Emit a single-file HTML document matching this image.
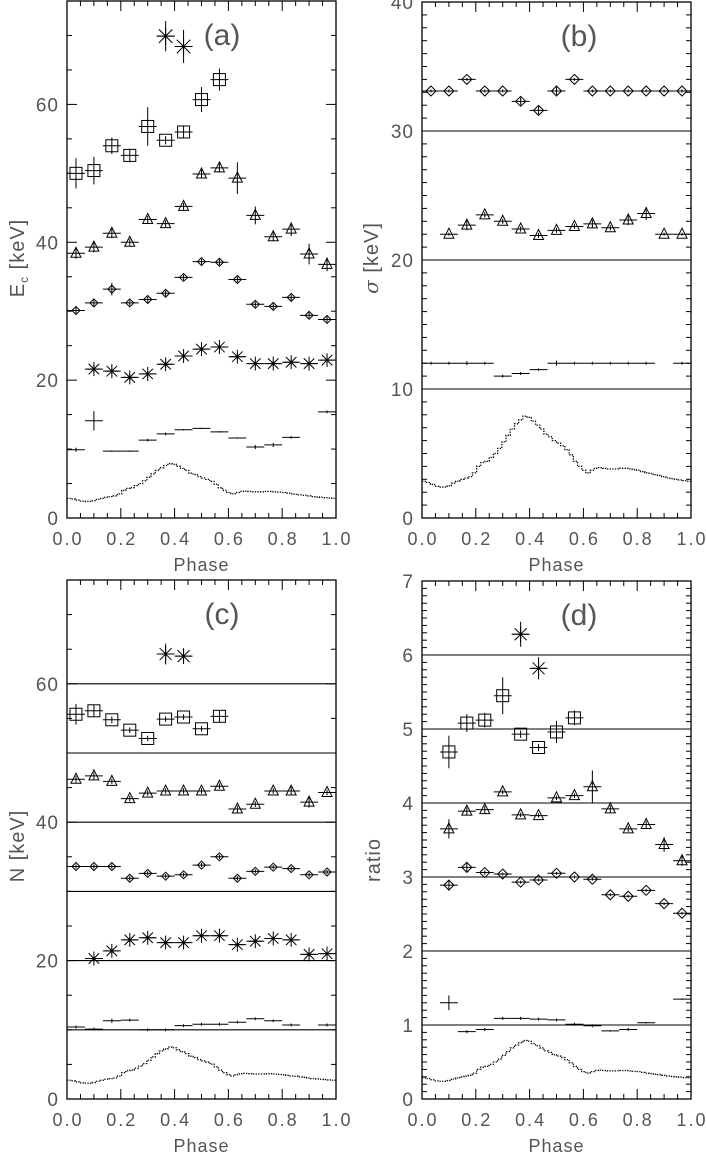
<!DOCTYPE html>
<html><head><meta charset="utf-8">
<style>
html,body{margin:0;padding:0;background:#fff;}
svg{display:block;}
text{font-family:"Liberation Sans",sans-serif;fill:#555;}
</style></head>
<body>
<svg id="fig" width="706" height="1155" viewBox="0 0 706 1155" xmlns="http://www.w3.org/2000/svg"></svg>
<script>
// ---- data (15 phase bins, centers (i+0.5)/15; null = missing) ----
const nBins = 15;
const lightCurve = [2.85,2.75,2.6,2.45,2.4,2.4,2.5,2.7,2.85,3.0,3.1,3.2,3.5,4.0,4.3,4.4,4.7,5.0,5.4,5.9,6.4,6.9,7.3,7.6,7.9,7.8,7.5,7.2,6.9,6.5,6.3,6.0,5.8,5.6,5.3,4.9,4.4,4.0,3.7,3.5,3.7,3.85,3.9,3.85,3.8,3.8,3.8,3.85,3.85,3.8,3.75,3.7,3.6,3.5,3.45,3.35,3.3,3.2,3.1,3.05,3.0,2.95,2.9,2.85];

// panel (a) Ec
const aStar = [null,null,null,null,null,69.9,68.4,null,null,null,null,null,null,null,null];
const aStarErr = [0,0,0,0,0,2.2,2.4,0,0,0,0,0,0,0,0];
const aSquare = [50.0,50.4,54.0,52.6,56.8,54.8,56.0,60.7,63.6,null,null,null,null,null,null];
const aSquareErr = [2.2,2.0,1.2,1.0,2.8,0.6,0.8,1.8,1.6,0,0,0,0,0,0];
const aTri = [38.4,39.3,41.3,40.0,43.3,42.7,45.2,49.9,50.8,49.3,43.9,40.8,41.9,38.3,36.8];
const aTriErr = [0.8,0.8,0.7,0.5,0.5,0.5,0.5,0.6,0.7,2.3,1.3,0.6,1.0,1.5,1.0];
const aDia = [30.1,31.2,33.2,31.2,31.7,32.6,34.9,37.2,37.1,34.6,31.0,30.7,32.0,29.4,28.8];
const aDiaErr = [0.4,0.5,0.9,0.4,0.4,0.4,0.4,0.4,0.4,0.4,0.4,0.4,0.4,0.4,0.4];
const aAst = [null,21.6,21.3,20.4,20.9,22.3,23.5,24.5,24.8,23.4,22.4,22.4,22.6,22.4,22.9];
const aAstErr = [0,0.6,0.5,0.5,0.5,0.5,0.5,0.5,0.5,0.5,0.4,0.4,0.4,0.4,0.6];
const aSmall = [9.9,14.1,9.7,9.7,11.3,12.2,12.8,13.0,12.5,11.6,10.3,10.6,11.7,null,15.4];
const aSmallErr = [0.3,1.4,0.1,0.1,0.2,0.2,0.1,0.1,0.1,0.1,0.3,0.3,0.2,0,0.2];

// panel (b) sigma
const bDia = [33.1,33.1,34.0,33.1,33.1,32.3,31.6,33.1,34.0,33.1,33.1,33.1,33.1,33.1,33.1];
const bDiaErr = [0,0,0,0,0,0.3,0.3,0.3,0,0,0,0,0,0,0];
const bTri = [null,22.0,22.7,23.5,23.0,22.4,21.9,22.3,22.6,22.8,22.5,23.1,23.6,22.0,22.0];
const bTriErr = [0,0,0.4,0.2,0.2,0.2,0.2,0.2,0.2,0.3,0.2,0.4,0.5,0,0];
const bSmall = [12.0,12.0,12.0,12.0,11.0,11.2,11.5,12.0,12.0,12.0,12.0,12.0,12.0,null,12.0];
const bSmallErr = [0,0,0.15,0,0,0,0.1,0.2,0,0,0,0,0,0,0];

// panel (c) N
const cStar = [null,null,null,null,null,64.3,64.0,null,null,null,null,null,null,null,null];
const cStarErr = [0,0,0,0,0,1.5,1.0,0,0,0,0,0,0,0,0];
const cSquare = [55.6,56.1,54.8,53.3,52.1,54.9,55.2,53.5,55.3,null,null,null,null,null,null];
const cSquareErr = [1.5,0.8,0.5,0.4,0.4,0.4,0.4,0.4,0.8,0,0,0,0,0,0];
const cTri = [46.2,46.7,45.9,43.4,44.2,44.5,44.5,44.5,45.2,41.9,42.6,44.5,44.5,42.9,44.3];
const cTriErr = [0.5,0.5,0.4,0.4,0.4,0.4,0.4,0.4,0.4,0.5,0.4,0.4,0.6,0.8,0.4];
const cDia = [33.6,33.6,33.6,31.9,32.6,32.2,32.4,33.8,35.0,31.9,32.9,33.5,33.3,32.4,32.8];
const cDiaErr = [0.3,0.3,0.3,0.3,0.3,0.3,0.3,0.3,0.3,0.3,0.3,0.3,0.3,0.3,0.3];
const cAst = [null,20.3,21.4,23.0,23.3,22.6,22.6,23.6,23.6,22.3,22.8,23.2,23.0,20.9,21.0];
const cAstErr = [0,0.3,0.4,0.3,0.3,0.3,0.3,0.3,0.3,0.3,0.3,0.3,0.3,0.3,0.3];
const cSmall = [10.4,10.1,11.3,11.4,10.0,10.0,10.6,10.8,10.8,11.1,11.6,11.3,10.7,null,10.7];
const cSmallErr = [0,0,0.3,0,0,0,0,0,0,0,0.2,0.2,0,0,0];

// panel (d) ratio
const dStar = [null,null,null,null,null,6.28,5.82,null,null,null,null,null,null,null,null];
const dStarErr = [0,0,0,0,0,0.17,0.15,0,0,0,0,0,0,0,0];
const dSquare = [null,4.69,5.08,5.12,5.45,4.93,4.75,4.96,5.15,null,null,null,null,null,null];
const dSquareErr = [0,0.22,0.12,0.1,0.25,0.05,0.05,0.15,0.1,0,0,0,0,0,0];
const dTri = [null,3.65,3.89,3.91,4.15,3.84,3.83,4.07,4.10,4.22,3.92,3.65,3.71,3.44,3.22];
const dTriErr = [0,0.13,0.05,0.05,0.03,0.03,0.03,0.03,0.03,0.22,0.05,0.04,0.05,0.1,0.07];
const dDia = [null,2.89,3.13,3.06,3.04,2.93,2.96,3.05,3.00,2.97,2.76,2.74,2.82,2.64,2.51];
const dDiaErr = [0,0.07,0.06,0.03,0.02,0.02,0.02,0.02,0.02,0.02,0.02,0.02,0.02,0.02,0.02];
const dSmall = [null,1.30,0.91,0.94,1.09,1.09,1.08,1.07,1.01,0.99,0.92,0.94,1.03,null,1.35];
const dSmallErr = [0,0.1,0,0,0,0,0,0,0,0,0.01,0.02,0.01,0,0.01];

const xTickLabels = ["0.0","0.2","0.4","0.6","0.8","1.0"];
const aYTicks = [0,20,40,60];
const bYTicks = [0,10,20,30,40];
const cYTicks = [0,20,40,60];
const dYTicks = [0,1,2,3,4,5,6,7];
const bHLines = [10,20,30];
const cHLines = [10,20,30,40,50,60];
const dHLines = [1,2,3,4,5,6];

const svg = document.getElementById('fig');
const NS = 'http://www.w3.org/2000/svg';
function mk(tag, attrs, parent){
  const e = document.createElementNS(NS, tag);
  for (const k in attrs) e.setAttribute(k, attrs[k]);
  (parent||svg).appendChild(e);
  return e;
}
function line(g,x1,y1,x2,y2,w){ return mk('line',{x1:x1,y1:y1,x2:x2,y2:y2,stroke:'#000','stroke-width':w||1},g); }

function panel(cfg){
  const g = mk('g',{});
  
  
  const X = p => cfg.x0 + p*(cfg.x1-cfg.x0);
  const Y = v => cfg.yb - v/cfg.ymax*(cfg.yb-cfg.yt);
  const fr = mk('rect',{x:cfg.x0,y:cfg.yt,width:cfg.x1-cfg.x0,height:cfg.yb-cfg.yt,fill:'none',stroke:'#000','stroke-width':1.3},g);
  
  
  for (let i=0;i<=20;i++){
    const p=i/20, x=X(p), L=(i%4===0)?10:5;
    line(g,x,cfg.yb,x,cfg.yb-L,1);
    line(g,x,cfg.yt,x,cfg.yt+L,1);
  }
  xTickLabels.forEach((s,i)=>{
    const t = mk('text',{x:X(i*0.2)+1,y:cfg.yb+27,'text-anchor':'middle','font-size':18,'letter-spacing':'2'},g);
    t.textContent = s;
    
    
  });
  const xt = mk('text',{x:(cfg.x0+cfg.x1)/2,y:cfg.yb+53,'text-anchor':'middle','font-size':18,'letter-spacing':'1'},g);
  xt.textContent='Phase';
  
  
  const nMin = Math.round(cfg.ymax/cfg.minor);
  for (let i=0;i<=nMin;i++){
    const v=i*cfg.minor, y=Y(v);
    const isMaj = Math.abs(v/cfg.major - Math.round(v/cfg.major))<1e-6;
    const L = isMaj?10:5;
    line(g,cfg.x0,y,cfg.x0+L,y,1);
    line(g,cfg.x1,y,cfg.x1-L,y,1);
  }
  cfg.yticks.forEach(v=>{
    const t = mk('text',{x:cfg.x0-8,y:Y(v)+7,'text-anchor':'end','font-size':19,'letter-spacing':'1'},g);
    t.textContent=String(v);
    
    
  });
  (cfg.hlines||[]).forEach(v=>{
    const l=line(g,cfg.x0,Y(v),cfg.x1,Y(v),1.1);
    
    
  });
  let pts=[];
  lightCurve.forEach((v,i)=>{
    const xa=X(i/lightCurve.length), xb=X((i+1)/lightCurve.length), y=Y(v*cfg.lcScale);
    pts.push(xa+','+y, xb+','+y);
  });
  const lc = mk('polyline',{points:pts.join(' '),fill:'none',stroke:'#000','stroke-width':1.3,'stroke-dasharray':'1.3,1.3'},g);
  
  
  cfg.series.forEach(s=>{
    const sg = mk('g',{},g);
    
    
    s.vals.forEach((v,i)=>{
      if (v===null) return;
      const cx = X((i+0.5)/nBins), cy = Y(v);
      const hw = (cfg.x1-cfg.x0)/nBins/2;
      line(sg,cx-hw,cy,cx+hw,cy,1);
      const e = s.errs[i]||0;
      if (e>0) line(sg,cx,Y(v+e),cx,Y(v-e),1);
      else line(sg,cx,cy-1.5,cx,cy+1.5,1);
      const r=s.r||5;
      if (s.sym==='square') mk('rect',{x:cx-r,y:cy-r,width:2*r,height:2*r,fill:'none',stroke:'#000','stroke-width':1},sg);
      else if (s.sym==='tri') mk('polygon',{points:`${cx},${cy-r-1} ${cx-r},${cy+r-1} ${cx+r},${cy+r-1}`,fill:'none',stroke:'#000','stroke-width':1},sg);
      else if (s.sym==='dia') mk('polygon',{points:`${cx},${cy-r} ${cx+r},${cy} ${cx},${cy+r} ${cx-r},${cy}`,fill:'none',stroke:'#000','stroke-width':1},sg);
      else if (s.sym==='ast'){
        line(sg,cx-r,cy,cx+r,cy,1); line(sg,cx,cy-r,cx,cy+r,1);
        const d=r*0.75; line(sg,cx-d,cy-d,cx+d,cy+d,1); line(sg,cx-d,cy+d,cx+d,cy-d,1);
      }
    });
  });
  const lab = mk('text',{x:cfg.labX,y:cfg.yt+44,'text-anchor':'middle','font-size':30},g);
  lab.textContent = cfg.letter;
  
  
  return {g,X,Y};
}

function S(name,sym,vals,errs,r){ return {name,sym,vals,errs,r}; }

panel({name:'panel-a',x0:67,x1:336,yt:1,yb:518,ymax:75,major:20,minor:5,yticks:aYTicks,hlines:[],lcScale:1.0,letter:'(a)',labX:222,
  series:[S('series-star','ast',aStar,aStarErr,9),S('series-square','square',aSquare,aSquareErr,6),S('series-triangle','tri',aTri,aTriErr,5),
  S('series-diamond','dia',aDia,aDiaErr,4),S('series-asterisk','ast',aAst,aAstErr,7),S('series-base','none',aSmall,aSmallErr,0)]});
panel({name:'panel-b',x0:422,x1:691,yt:2,yb:518,ymax:40,major:10,minor:1,yticks:bYTicks,hlines:bHLines,lcScale:1.0,letter:'(b)',labX:579,
  series:[S('series-diamond','dia',bDia,bDiaErr,5),S('series-triangle','tri',bTri,bTriErr,5),S('series-base','none',bSmall,bSmallErr,0)]});
panel({name:'panel-c',x0:67,x1:336,yt:580,yb:1099,ymax:75,major:20,minor:5,yticks:cYTicks,hlines:cHLines,lcScale:0.95,letter:'(c)',labX:222,
  series:[S('series-star','ast',cStar,cStarErr,8),S('series-square','square',cSquare,cSquareErr,6),S('series-triangle','tri',cTri,cTriErr,5),
  S('series-diamond','dia',cDia,cDiaErr,4),S('series-asterisk','ast',cAst,cAstErr,7),S('series-base','none',cSmall,cSmallErr,0)]});
panel({name:'panel-d',x0:422,x1:691,yt:581,yb:1099,ymax:7,major:1,minor:0.1,yticks:dYTicks,hlines:dHLines,lcScale:0.1,letter:'(d)',labX:579,
  series:[S('series-star','ast',dStar,dStarErr,8),S('series-square','square',dSquare,dSquareErr,6),S('series-triangle','tri',dTri,dTriErr,5),
  S('series-diamond','dia',dDia,dDiaErr,5),S('series-base','none',dSmall,dSmallErr,0)]});

function ytitle(x,y,name,html){
  const t = mk('text',{x:0,y:0,'text-anchor':'middle','font-size':20,'letter-spacing':'1',transform:`translate(${x},${y}) rotate(-90)`});
  t.innerHTML = html;
  
  
}
ytitle(24,258,'y-axis-title-ec','E<tspan font-size="12" dy="4">c</tspan><tspan dy="-4"> [keV]</tspan>');
ytitle(378,258,'y-axis-title-sigma','<tspan font-family="DejaVu Serif" font-style="italic">σ</tspan> [keV]');
ytitle(24,846,'y-axis-title-n','N [keV]');
ytitle(380,860,'y-axis-title-ratio','ratio');
</script>
</body></html>
